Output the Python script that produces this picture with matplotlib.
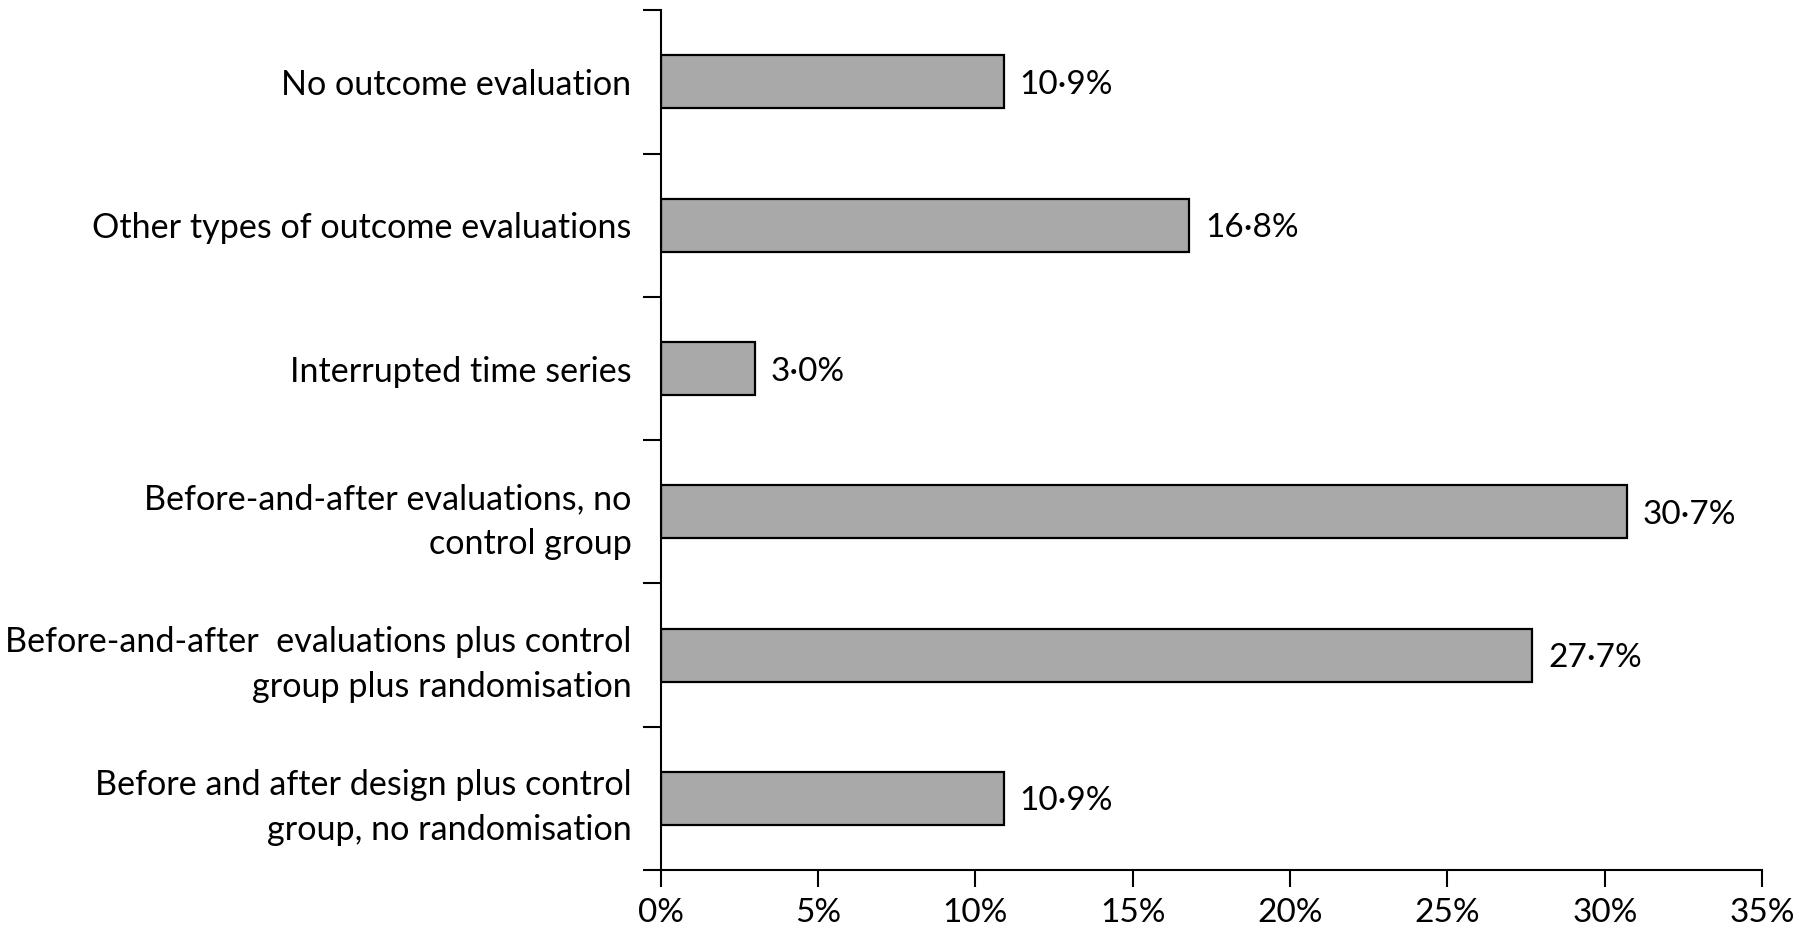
import matplotlib.pyplot as plt
from matplotlib.ticker import FixedLocator, FuncFormatter

plt.rcParams['font.family'] = ['Lato', 'DejaVu Sans']

# categories listed from bottom to top
categories = [
    "Before and after design plus control\ngroup, no randomisation",
    "Before-and-after  evaluations plus control\ngroup plus randomisation",
    "Before-and-after evaluations, no\ncontrol group",
    "Interrupted time series",
    "Other types of outcome evaluations",
    "No outcome evaluation",
]
values = [10.9, 27.7, 30.7, 3.0, 16.8, 10.9]
xticks = [0, 5, 10, 15, 20, 25, 30, 35]

fig = plt.figure(figsize=(18, 9.36), dpi=100)
ax = fig.add_axes([0.367, 0.0705, 0.612, 0.9185])

ypos = list(range(len(categories)))
ax.barh(ypos, values, height=0.37, color='#a9a9a9', edgecolor='black', linewidth=1.6)

for y, v in zip(ypos, values):
    ax.text(v + 0.5, y, f"{v:.1f}%".replace('.', '\u00b7'), va='center_baseline', ha='left', fontsize=24)

ax.set_xlim(0, 35)
ax.set_ylim(-0.5, len(categories) - 0.5)

ax.set_xticks(xticks)
ax.xaxis.set_major_formatter(FuncFormatter(lambda x, p: f"{x:.0f}%"))
ax.tick_params(axis='x', direction='out', length=12, width=1.5, pad=8, labelsize=24)

ax.set_yticks(ypos)
ax.set_yticklabels(categories, fontsize=24.6, ha='right', multialignment='right', linespacing=1.5)
ax.yaxis.set_minor_locator(FixedLocator([i - 0.5 for i in range(len(categories) + 1)]))
ax.tick_params(axis='y', which='major', length=0, pad=21)
ax.tick_params(axis='y', which='minor', direction='out', length=13, width=1.5)

for s in ['top', 'right']:
    ax.spines[s].set_visible(False)
for s in ['left', 'bottom']:
    ax.spines[s].set_linewidth(1.5)

plt.savefig('out.png', dpi=100)
plt.close()
